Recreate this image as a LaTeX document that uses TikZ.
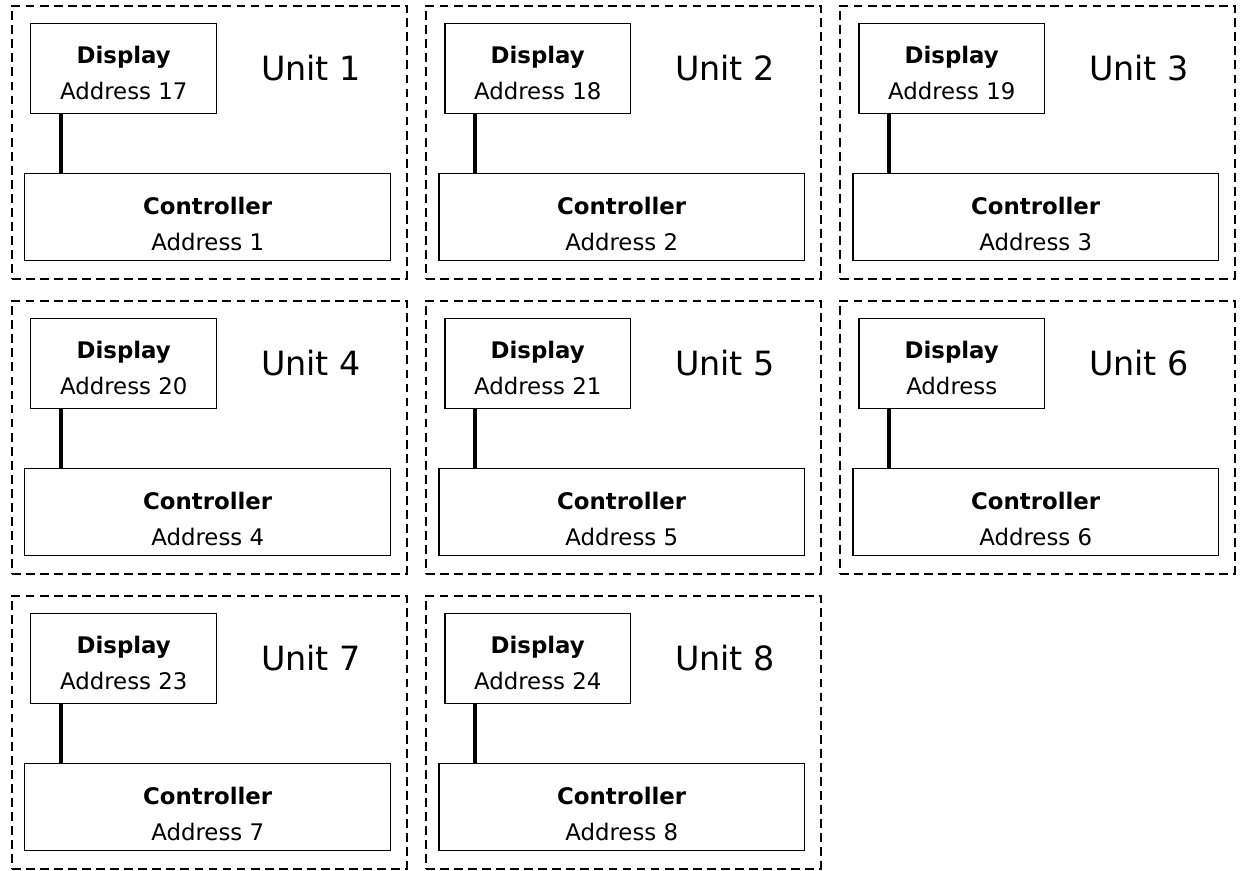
\documentclass[tikz,border=0pt]{standalone}
\usepackage{fontspec}
\setmainfont{DejaVu Sans}
\usetikzlibrary{calc}

\tikzset{
	unitbox/.style={draw, dash pattern=on 5pt off 3pt, line width=0.9pt, minimum width=7.9cm, minimum height=5.46cm, anchor=north west},
	devbox/.style={draw, line width=0.85pt, align=center, inner sep=0pt, anchor=north west, font=\fontsize{13}{20.5}\selectfont},
	link/.style={line width=2pt},
	unitlabel/.style={font=\fontsize{19}{23}\selectfont}
}

\begin{document}
\begin{tikzpicture}[x=0.02cm, y=-0.02cm]
			\useasboundingbox (0,0) rectangle (1240,871);
			\foreach \n/\cx/\cy/\da [evaluate=\cx as \ox using 11+\cx*414, evaluate=\cy as \oy using 5+\cy*295]
				in {1/0/0/{Address 17}, 2/1/0/{Address 18}, 3/2/0/{Address 19},
				4/0/1/{Address 20}, 5/1/1/{Address 21}, 6/2/1/{Address},
				7/0/2/{Address 23}, 8/1/2/{Address 24}}{
				\node[unitbox] (unit\n) at (\ox,\oy) {};
				\node[devbox, minimum width=3.72cm, minimum height=1.8cm, text height=35pt] (disp\n) at ([shift={(19,18)}]unit\n.north west) {\textbf{Display}\\\da};
				\node[devbox, minimum width=7.32cm, minimum height=1.74cm, text height=38.5pt] (ctrl\n) at ([shift={(13,168)}]unit\n.north west) {\textbf{Controller}\\Address \n};
				\node[unitlabel] (lbl\n) at ([shift={(300,63)}]unit\n.north west) {Unit \n};
				\coordinate (tap\n) at ([xshift=0.62cm]disp\n.south west);
				\draw[link] (tap\n) -- (tap\n |- ctrl\n.north);
			}
		\end{tikzpicture}
\end{document}
